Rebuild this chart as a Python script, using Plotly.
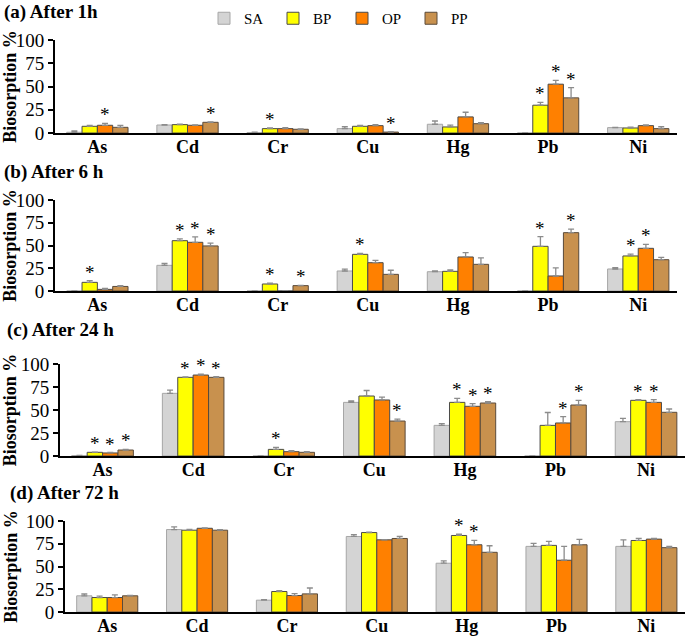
import plotly.graph_objects as go

metals = ['As', 'Cd', 'Cr', 'Cu', 'Hg', 'Pb', 'Ni']
groups = ['SA', 'BP', 'OP', 'PP']
panel_titles = ['(a) After 1h', '(b) After 6 h', '(c) After 24 h', '(d) After 72 h']
y_ticks = [0, 25, 50, 75, 100]

# rows follow groups (SA, BP, OP, PP), columns follow metals
mean_1h = [[0.8, 8.6, 0.5, 4.7, 9.4, 0, 5.8],
           [7.2, 9.0, 4.7, 7.2, 6.5, 29.9, 5.4],
           [8.3, 8.3, 4.7, 7.9, 17.3, 52.5, 7.9],
           [6.1, 11.5, 4.0, 1.0, 10.0, 37.8, 4.7]]
err_1h = [[1.5, 0.5, 0.3, 2.0, 3.5, 0, 0.3],
          [1.0, 0.5, 0.8, 1.0, 2.0, 3.0, 1.0],
          [2.0, 0.3, 1.0, 1.0, 5.0, 4.0, 0.7],
          [2.0, 0.5, 0.5, 0.5, 1.0, 11.0, 2.0]]
star_1h = [[0, 0, 0, 0, 0, 0, 0],
           [0, 0, 1, 0, 0, 1, 0],
           [1, 0, 0, 0, 0, 1, 0],
           [0, 1, 0, 1, 0, 1, 0]]

mean_6h = [[0, 28.2, 0, 22.0, 21.2, 0, 24.2],
           [9.5, 55.3, 7.7, 40.3, 21.6, 49.1, 38.5],
           [1.8, 53.5, 0, 31.1, 37.4, 16.5, 46.9],
           [5.0, 49.5, 5.9, 18.3, 29.3, 64.1, 34.4]]
err_6h = [[0, 2.0, 0, 2.0, 1.0, 0, 1.5],
          [2.0, 2.0, 1.0, 1.0, 1.5, 10.6, 2.0],
          [1.0, 6.0, 0, 2.5, 4.7, 9.0, 4.4],
          [1.0, 3.0, 0.3, 4.5, 7.0, 4.0, 2.5]]
star_6h = [[0, 0, 0, 0, 0, 0, 0],
           [1, 1, 1, 1, 0, 1, 1],
           [0, 1, 0, 0, 0, 0, 1],
           [0, 1, 1, 0, 0, 1, 0]]

mean_24h = [[0.5, 68.1, 0, 58.3, 33.3, 0, 37.3],
            [4.0, 85.5, 7.2, 65.2, 58.3, 33.3, 60.5],
            [3.3, 88.0, 4.7, 60.9, 54.0, 35.9, 58.3],
            [6.5, 85.5, 4.0, 38.0, 57.6, 55.4, 47.5]]
err_24h = [[0.2, 3.6, 0, 1.5, 1.8, 0, 3.6],
           [0.3, 0.5, 2.2, 6.0, 4.4, 14.0, 0.7],
           [0.5, 1.0, 1.0, 3.0, 3.0, 7.0, 3.0],
           [0.8, 0.7, 0.8, 2.0, 1.4, 5.0, 3.6]]
star_24h = [[0, 0, 0, 0, 0, 0, 0],
            [1, 1, 1, 0, 1, 0, 1],
            [1, 1, 0, 0, 1, 1, 1],
            [1, 1, 0, 1, 1, 1, 0]]

mean_72h = [[17.8, 90.6, 13.0, 83.0, 53.6, 72.1, 72.1],
            [15.9, 89.9, 22.5, 87.3, 84.1, 73.2, 78.6],
            [15.9, 92.0, 18.1, 79.3, 73.9, 56.9, 80.1],
            [17.8, 89.9, 19.9, 80.8, 65.6, 73.9, 70.7]]
err_72h = [[2.0, 3.0, 0.5, 2.0, 2.5, 3.3, 7.2],
           [1.5, 1.0, 1.0, 0.5, 1.5, 4.3, 2.2],
           [3.0, 0.5, 2.0, 0.3, 4.7, 15.2, 0.7],
           [0.5, 0.7, 6.5, 2.2, 7.2, 5.8, 1.5]]
star_72h = [[0, 0, 0, 0, 0, 0, 0],
            [0, 0, 0, 0, 1, 0, 0],
            [0, 0, 0, 0, 1, 0, 0],
            [0, 0, 0, 0, 0, 0, 0]]

panels = [(mean_1h, err_1h, star_1h), (mean_6h, err_6h, star_6h),
          (mean_24h, err_24h, star_24h), (mean_72h, err_72h, star_72h)]

colors = ['#d4d4d4', '#ffff00', '#ff8000', '#c8914e']
outlines = ['#a6a6a6', '#4a4a4a', '#4a4a4a', '#5a4a3a']
serif = 'Liberation Serif, Times New Roman, serif'

W, H = 685, 637
# pixel boxes of each plot area: (left, right, top, bottom)
boxes = [(55, 677, 40, 133), (55, 677, 200, 291), (60, 685, 364, 456), (65, 685, 521, 612)]
title_pos = [(2, 12), (2, 172), (5, 330), (8, 493)]

group_frac = 0.68
bar_w = group_frac / len(groups)
offsets = [(k - (len(groups) - 1) / 2) * bar_w for k in range(len(groups))]

fig = go.Figure()
annotations = []
layout = {}

for p, (mean, err, star) in enumerate(panels):
    ax = '' if p == 0 else str(p + 1)
    for k, g in enumerate(groups):
        fig.add_trace(go.Bar(
            x=metals, y=mean[k], name=g, legendgroup=g, showlegend=(p == 0),
            xaxis='x' + ax, yaxis='y' + ax,
            marker=dict(color=colors[k], line=dict(color=outlines[k], width=1)),
            error_y=dict(type='data', symmetric=False, array=err[k],
                         arrayminus=[0] * len(metals), color='#8c8c8c',
                         thickness=1.3, width=3),
        ))
        for i in range(len(metals)):
            if star[k][i]:
                annotations.append(dict(
                    x=i + offsets[k], y=mean[k][i] + err[k][i], xref='x' + ax, yref='y' + ax,
                    text='*', showarrow=False, yanchor='bottom', yshift=-4,
                    font=dict(family=serif, size=19, color='black')))
    l, r, t, b = boxes[p]
    layout['xaxis' + ax] = dict(
        domain=[l / W, r / W], anchor='y' + ax, range=[-0.47, 6.43],
        showline=True, linecolor='black', linewidth=2, ticks='', ticklabelstandoff=-4,
        tickfont=dict(family=serif, size=18, color='black', weight='bold'))
    layout['yaxis' + ax] = dict(
        domain=[1 - b / H, 1 - t / H], anchor='x' + ax, range=[0, 100],
        tickvals=y_ticks, showline=True, linecolor='black', linewidth=2,
        ticks='outside', ticklen=5, tickwidth=2, tickcolor='black', showgrid=False,
        zeroline=False, tickfont=dict(family=serif, size=19, color='black'),
        title=dict(text='Biosorption %', standoff=3,
                   font=dict(family=serif, size=18, color='black', weight='bold')))
    tx, ty = title_pos[p]
    annotations.append(dict(
        x=tx / W, y=1 - ty / H, xref='paper', yref='paper', xanchor='left', yanchor='middle',
        text=panel_titles[p], showarrow=False,
        font=dict(family=serif, size=19, color='black', weight='bold')))

fig.update_layout(
    width=W, height=H, margin=dict(l=0, r=0, t=0, b=0, autoexpand=False),
    paper_bgcolor='white', plot_bgcolor='white',
    barmode='group', bargap=1 - group_frac, bargroupgap=0,
    legend=dict(orientation='h', x=204 / W, y=1 - 2 / H, xanchor='left', yanchor='top',
                font=dict(family=serif, size=15, color='black'),
                entrywidth=24, entrywidthmode='pixels', itemwidth=30),
    annotations=annotations,
    **layout)

# the page's default body margin would shift the figure by 8px
fig.write_html("out.html", config={'displayModeBar': False},
               post_script="document.body.style.margin = '0px';")
